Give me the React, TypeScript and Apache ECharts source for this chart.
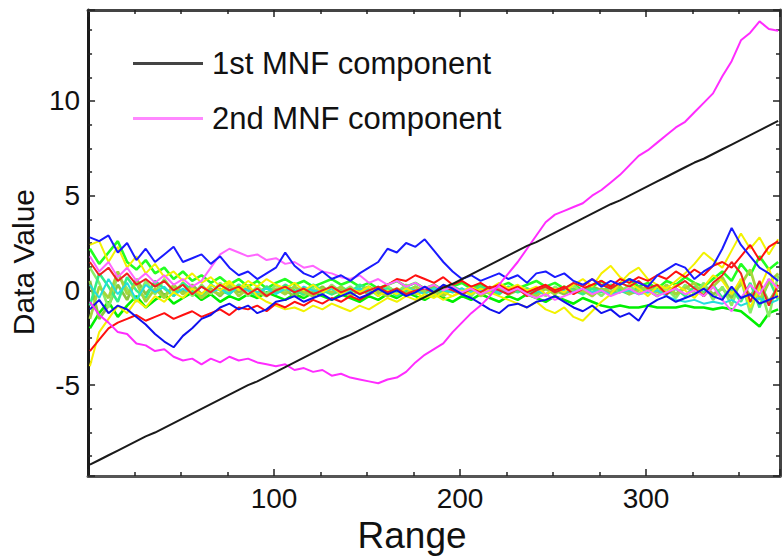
import React, { useEffect, useRef } from 'react';
import * as echarts from 'echarts';

// x positions (Range)
const XS = [
  1, 6, 11, 16, 21, 26, 31, 36, 41, 46, 51, 56, 61, 66, 71,
  76, 81, 86, 91, 96, 101, 106, 111, 116, 121, 126, 131, 136, 141, 146,
  151, 156, 161, 166, 171, 176, 181, 186, 191, 196, 201, 206, 211, 216, 221,
  226, 231, 236, 241, 246, 251, 256, 261, 266, 271, 276, 281, 286, 291, 296,
  301, 306, 311, 316, 321, 326, 331, 336, 341, 346, 351, 356, 361, 366, 371,
];

const MNF1 = [
  -9.2, -8.95, -8.7, -8.45, -8.2, -7.95, -7.7, -7.5, -7.25, -7.0, -6.75, -6.5, -6.25, -6.0, -5.75,
  -5.5, -5.25, -5.0, -4.8, -4.55, -4.3, -4.05, -3.8, -3.55, -3.3, -3.05, -2.8, -2.55, -2.35, -2.1,
  -1.85, -1.6, -1.35, -1.1, -0.85, -0.6, -0.35, -0.1, 0.15, 0.35, 0.6, 0.85, 1.1, 1.35, 1.6,
  1.85, 2.1, 2.35, 2.55, 2.8, 3.05, 3.3, 3.55, 3.8, 4.05, 4.3, 4.55, 4.75, 5.0, 5.25,
  5.5, 5.75, 6.0, 6.25, 6.5, 6.75, 6.95, 7.2, 7.45, 7.7, 7.95, 8.2, 8.45, 8.7, 8.95,
];

const MNF2 = [
  -0.6, -1.3, -1.7, -2.2, -2.3, -2.8, -2.9, -3.2, -3.1, -3.5, -3.7, -3.6, -3.9, -3.6, -3.8,
  -3.5, -3.7, -3.6, -3.8, -3.9, -4.0, -3.9, -4.2, -4.1, -4.3, -4.2, -4.5, -4.4, -4.6, -4.7,
  -4.8, -4.9, -4.7, -4.6, -4.3, -3.8, -3.4, -3.1, -2.8, -2.2, -1.7, -1.2, -0.8, -0.3, 0.3,
  0.9, 1.5, 2.2, 2.9, 3.6, 4.0, 4.2, 4.4, 4.6, 5.0, 5.3, 5.7, 6.1, 6.6, 7.1,
  7.4, 7.8, 8.2, 8.6, 8.9, 9.4, 9.9, 10.4, 11.3, 12.1, 13.2, 13.6, 14.2, 13.8, 13.7,
];

const BLUE_A = [
  2.8, 2.6, 2.9, 2.0, 2.5, 1.6, 2.2, 1.5, 1.9, 2.3, 1.5, 1.7, 1.9, 1.4, 1.8,
  1.2, 0.8, 1.0, 0.6, 0.9, 1.2, 2.0, 1.3, 0.9, 0.7, 1.0, 0.6, 0.8, 0.5, 0.9,
  1.2, 1.5, 2.2, 2.0, 2.5, 2.3, 2.7, 2.1, 1.5, 1.0, 0.6, 0.8, 0.5, 0.7, 0.9,
  0.6, 0.8, 0.4, 0.9, 1.0, 0.7, 0.9, 0.5, 0.3, 0.6, 0.2, 0.5, 0.3, 0.6, 0.4,
  0.2, 0.8, 1.1, 1.4, 1.2, 0.6, 1.0, 1.3, 2.2, 3.3, 2.4, 1.8, 1.2, 0.9, 0.5,
];

const BLUE_B = [
  -1.0, -0.5, -1.2, -0.8, -1.0, -1.4, -1.8, -2.3, -2.7, -3.0, -2.4, -2.0, -1.5, -1.3, -0.9,
  -0.7, -1.0, -0.8, -1.2, -1.0, -0.6, -0.5, -0.3, -0.6, -0.4, -0.2, -0.5, -0.3, -0.1, -0.4,
  -0.2, 0.1, -0.2, 0.0, -0.3, -0.1, 0.2, -0.1, 0.3, 0.1, -0.2, -0.4, -0.7, -1.0, -1.2,
  -0.8, -0.7, -0.9, -0.6, -0.5, -0.3, -0.6, -0.9, -1.1, -0.8, -1.2, -1.0, -1.4, -1.2, -1.6,
  -0.8, -0.5, -0.3, -0.6, -0.4, -0.2, 0.1, -0.3, -0.5, 0.2, -0.4, -0.2, -0.7, -0.5, -0.3,
];

const RED_A = [
  -3.2, -2.6, -2.0, -1.7, -1.5, -1.3, -1.6, -1.4, -1.2, -1.5, -1.3, -1.1, -1.4, -1.2, -1.0,
  -1.3, -0.9, -1.0, -0.8, -1.1, -0.7, -0.9, -0.6, -0.8, -0.5, -0.7, -0.4, -0.6, -0.3, -0.5,
  -0.2, 0.1, 0.3, 0.6, 0.5, 0.8, 0.6, 0.4, 0.7, 0.3, 0.5, 0.2, 0.4, 0.1, 0.3,
  0.0, 0.2, -0.1, 0.1, 0.3, 0.0, 0.2, -0.2, 0.1, 0.3, 0.5, 0.2, 0.6, 0.4, 0.7,
  0.5, 0.8, 0.6, 1.0, 0.7, 1.1, 0.8, 1.3, 1.5, 1.2, 1.8, 2.4, 1.6, 2.3, 2.6,
];

const RED_B = [
  1.5, 0.8, 1.2, 0.5, 0.9, 0.3, 0.6, 0.2, 0.5, 0.0, 0.3, -0.2, 0.2, -0.1, 0.3,
  0.0, 0.2, -0.2, 0.1, -0.3, 0.0, 0.2, -0.1, 0.1, -0.2, 0.0, 0.2, -0.1, 0.1, -0.2,
  0.0, 0.2, -0.1, 0.1, -0.2, 0.0, 0.1, -0.1, 0.2, 0.0, -0.2, 0.1, -0.1, 0.2, 0.0,
  -0.2, 0.1, -0.3, 0.0, 0.2, -0.1, 0.1, 0.4, 0.2, 0.6, 0.3, 0.1, 0.4, 0.2, 0.5,
  0.1, 0.3, -0.2, 0.2, 0.5, 0.1, -0.3, 0.4, 0.8, 1.5, 0.9, -0.6, 0.5, -0.8, 0.3,
];

const YELLOW_A = [
  2.4, 2.6, 1.5, 2.3, 1.2, 1.8, 0.9, 1.4, 0.7, 1.0, 0.5, 0.9, 0.4, 0.7, 0.2,
  0.5, 0.0, 0.3, -0.3, -0.6, -0.8, -1.0, -0.9, -1.1, -0.8, -1.0, -0.7, -0.9, -1.1, -0.8,
  -1.0, -0.7, -0.4, -0.6, -0.3, -0.5, -0.2, -0.4, -0.1, -0.3, 0.0, -0.2, 0.1, -0.1, -0.3,
  -0.5, -0.7, -0.9, -0.6, -1.0, -1.2, -0.9, -1.4, -1.6, -1.1, -0.6, -0.2, 0.4, 0.9, 1.2,
  0.6, 0.3, 0.1, 0.5, 0.9, 1.4, 2.0, 1.6, 1.2, 2.1, 3.0, 2.2, 2.8, 1.9, 2.7,
];

const YELLOW_B = [
  -4.0, -2.2, -1.5, -0.8, -1.2, -0.5, -0.9, -0.3, -0.6, -0.1, -0.4, 0.1, -0.2, 0.3, 0.0,
  0.4, 0.1, 0.5, 0.2, 0.6, 0.3, 0.1, 0.4, 0.0, 0.3, -0.1, 0.2, -0.2, 0.1, -0.1,
  0.2, -0.3, 0.0, -0.2, 0.1, -0.1, -0.4, -0.2, -0.5, -0.3, -0.1, 0.2, -0.1, 0.1, 0.4,
  0.1, 0.3, 0.0, 0.2, -0.2, 0.1, -0.1, 0.3, 0.6, 0.2, 0.9, 1.3, 0.7, 0.4, 0.1,
  -0.3, 0.2, -0.1, 0.3, 0.0, -0.4, 0.2, 0.8, 0.5, -0.2, 0.6, -0.9, 0.1, 1.2, -0.4,
];

const GREEN_1 = [
  2.2, 1.4, 2.0, 2.6, 1.5, 1.1, 1.6, 0.9, 1.2, 0.6, 1.0, 0.5, 0.8, 0.4, 0.7,
  0.3, 0.6, 0.2, 0.5, 0.1, 0.4, 0.6, 0.3, 0.5, 0.2, 0.4, 0.6, 0.3, 0.5, 0.2,
  0.4, 0.1, 0.3, 0.5, 0.2, 0.4, 0.1, 0.3, 0.0, 0.2, 0.4, 0.1, 0.3, 0.0, 0.2,
  0.4, 0.1, 0.3, 0.5, 0.2, 0.4, 0.1, 0.3, 0.0, 0.2, 0.5, 0.1, 0.3, 0.6, 0.2,
  0.4, 0.1, 0.5, 0.3, 0.7, 0.4, 0.2, 0.6, 1.0, 0.5, 1.4, 0.8, 1.8, 1.1, 1.5,
];

const GREEN_2 = [
  -2.0, -1.2, -0.6, -1.4, -0.8, -0.3, -0.9, -0.5, -0.2, -0.7, -0.4, -0.1, -0.5, -0.2, -0.6,
  -0.3, -0.5, -0.2, -0.4, -0.1, -0.3, -0.5, -0.2, -0.4, -0.1, -0.3, -0.5, -0.2, -0.4, -0.6,
  -0.3, -0.5, -0.2, -0.4, -0.1, -0.3, -0.5, -0.2, -0.4, -0.6, -0.3, -0.5, -0.2, -0.4, -0.6,
  -0.3, -0.5, -0.2, -0.4, -0.6, -0.3, -0.5, -0.7, -0.4, -0.6, -0.8, -0.9, -0.8, -0.9, -0.9,
  -0.8, -0.9, -0.9, -0.9, -0.8, -0.9, -0.9, -1.0, -0.9, -1.0, -1.1, -1.5, -1.9, -1.2, -1.0,
];

const GREEN_3 = [
  0.5, -1.5, -0.8, 0.3, -0.5, 0.6, -0.2, 0.4, -0.3, 0.2, -0.1, 0.3, -0.2, 0.1, -0.3,
  0.2, -0.1, 0.1, -0.2, 0.2, -0.1, 0.0, -0.3, 0.1, -0.1, 0.2, -0.2, 0.0, -0.1, 0.1,
  -0.2, 0.0, 0.2, -0.1, 0.1, -0.2, 0.0, 0.2, -0.1, 0.1, -0.2, 0.0, 0.2, -0.1, 0.1,
  -0.2, 0.0, 0.1, -0.1, 0.2, 0.0, -0.2, 0.1, -0.1, 0.2, 0.0, -0.2, 0.1, -0.1, 0.2,
  0.0, -0.3, 0.1, -0.2, 0.2, -0.1, 0.3, -0.2, 0.1, -0.4, 0.5, -0.3, 0.4, -0.6, 0.2,
];

const GREEN_4 = [
  1.2, 0.4, -0.9, 0.8, 0.1, -0.6, 0.5, -0.2, 0.6, -0.1, 0.4, -0.3, 0.3, -0.2, 0.4,
  -0.1, 0.3, -0.3, 0.2, -0.2, 0.3, -0.1, 0.2, -0.3, 0.1, -0.2, 0.3, -0.1, 0.2, -0.2,
  0.1, -0.3, 0.2, -0.1, 0.3, -0.2, 0.1, -0.3, 0.2, -0.1, 0.1, -0.3, 0.2, -0.2, 0.3,
  -0.1, 0.2, -0.2, 0.1, -0.3, 0.2, -0.1, 0.3, -0.2, 0.1, -0.3, 0.2, -0.1, 0.3, -0.2,
  0.2, -0.3, 0.1, -0.4, 0.3, -0.2, 0.4, -0.5, 0.2, -0.8, 0.6, -1.2, 0.3, -1.4, 0.8,
];

const GREEN_5 = [
  -0.8, 0.9, 0.2, -0.6, 0.7, 0.0, -0.4, 0.5, 0.1, -0.3, 0.4, 0.0, -0.3, 0.3, 0.0,
  -0.2, 0.3, 0.0, -0.3, 0.2, -0.1, 0.3, 0.0, -0.2, 0.3, 0.0, -0.2, 0.2, -0.1, 0.3,
  0.0, -0.2, 0.1, -0.3, 0.0, 0.2, -0.1, 0.1, -0.2, 0.2, 0.0, -0.1, 0.2, 0.0, -0.2,
  0.2, -0.1, 0.1, -0.2, 0.1, -0.1, 0.2, 0.0, -0.2, 0.1, -0.1, 0.3, 0.0, -0.2, 0.1,
  -0.1, 0.2, -0.2, 0.1, -0.3, 0.2, -0.1, 0.3, -0.4, 0.1, -0.6, 0.4, -0.9, 0.6, -0.5,
];

const GREEN_6 = [
  -1.5, 0.2, -0.4, 1.0, -0.2, 0.4, -0.6, 0.1, -0.4, 0.3, -0.2, 0.2, -0.4, 0.0, -0.2,
  0.3, -0.3, 0.1, -0.1, -0.3, 0.1, -0.2, 0.2, -0.1, -0.3, 0.1, -0.1, 0.2, -0.3, 0.0,
  0.2, -0.1, -0.3, 0.1, -0.2, 0.2, -0.1, 0.0, -0.3, 0.1, -0.1, 0.2, -0.3, 0.0, 0.1,
  -0.2, 0.2, -0.1, -0.3, 0.1, -0.2, 0.2, -0.1, 0.0, -0.3, 0.1, -0.1, 0.2, -0.2, 0.0,
  0.2, -0.1, 0.3, -0.2, 0.1, 0.4, -0.3, 0.2, 0.7, -0.2, 0.3, 1.1, -0.5, 0.4, 0.9,
];

const CYAN = [
  0.3, -0.4, 0.6, -0.2, 0.4, -0.5, 0.3, -0.1, 0.2, -0.3, 0.1, -0.2, 0.2, -0.1, 0.1,
  -0.2, 0.2, 0.0, -0.1, 0.1, -0.2, 0.1, -0.1, 0.2, 0.0, -0.1, 0.1, -0.2, 0.0, 0.1,
  -0.1, 0.2, 0.0, -0.1, 0.1, 0.0, -0.2, 0.1, 0.0, -0.1, 0.1, -0.1, 0.0, 0.1, -0.1,
  0.0, 0.1, -0.1, 0.0, -0.2, 0.1, 0.0, -0.1, 0.1, -0.1, 0.0, -0.2, -0.1, 0.0, -0.2,
  -0.1, 0.0, -0.3, -0.5, -0.6, -0.5, -0.7, -0.6, -0.7, -0.5, -0.8, -0.6, -0.4, -0.7, -0.5,
];

const PINK = [
  1.8, 1.0, 1.5, 0.7, 1.2, 0.5, 0.9, 0.4, 0.8, 0.3, 0.6, 0.2, 0.5, 1.2, 1.9,
  2.2, 2.0, 1.8, 1.9, 1.6, 1.7, 1.4, 1.5, 1.2, 1.3, 1.0, 0.9, 0.7, 0.6, 0.8,
  0.4, 0.6, 0.3, 0.5, 0.2, 0.4, 0.1, 0.3, 0.0, 0.2, -0.1, 0.1, -0.2, 0.0, 0.2,
  -0.1, 0.1, -0.2, -0.4, -0.2, -0.5, -0.3, -0.1, 0.1, -0.2, 0.0, -0.3, -0.1, 0.1, -0.2,
  0.0, -0.3, -0.1, 0.1, -0.2, 0.0, -0.3, 0.2, -0.5, -1.1, -0.4, 0.3, -0.2, 0.6, 0.1,
];

const LEGEND_NAMES = ['1st MNF component', '2nd MNF component'];
const X_TITLE = 'Range';
const Y_TITLE = 'Data Value';

const NOISE = [
  { name: 'noise-g1', data: GREEN_1, color: '#22ff22', width: 2.6 },
  { name: 'noise-g2', data: GREEN_2, color: '#00f000', width: 2.6 },
  { name: 'noise-g3', data: GREEN_3, color: '#8cc63f', width: 2.8 },
  { name: 'noise-g4', data: GREEN_4, color: '#88ee66', width: 2.6 },
  { name: 'noise-g5', data: GREEN_5, color: '#33ee88', width: 2.6 },
  { name: 'noise-g6', data: GREEN_6, color: '#a6d63a', width: 2.8 },
  { name: 'noise-cyan', data: CYAN, color: '#22dddd', width: 2 },
  { name: 'noise-yellow-a', data: YELLOW_A, color: '#f2f200', width: 2 },
  { name: 'noise-yellow-b', data: YELLOW_B, color: '#f7f000', width: 2 },
  { name: 'noise-red-a', data: RED_A, color: '#ff1010', width: 2 },
  { name: 'noise-red-b', data: RED_B, color: '#f02020', width: 2 },
  { name: 'noise-pink', data: PINK, color: '#ff66ff', width: 2 },
  { name: 'noise-blue-a', data: BLUE_A, color: '#1a1aff', width: 2 },
  { name: 'noise-blue-b', data: BLUE_B, color: '#1010ee', width: 2 },
];

const FONT = '"Liberation Sans", Arial, Helvetica, sans-serif';
const W = 782;
const H = 559;

const pairs = (ys: number[]) => XS.map((x, i) => [x, ys[i]]);

export default function App() {
  const ref = useRef<HTMLDivElement>(null);
  useEffect(() => {
    if (!ref.current) return;
    const chart = echarts.init(ref.current, undefined, { renderer: 'svg', width: W, height: H });
    const tickStyle = { color: '#222', width: 1.5 };
    const xCommon = {
      type: 'value',
      min: 0,
      max: 372,
      interval: 100,
      splitLine: { show: false },
      minorSplitLine: { show: false },
      axisTick: { show: true, inside: true, length: 7, lineStyle: tickStyle },
      minorTick: { show: true, splitNumber: 4, length: 4, lineStyle: tickStyle },
    };
    const yCommon = {
      type: 'value',
      min: -9.8,
      max: 14.8,
      splitNumber: 5,
      splitLine: { show: false },
      minorSplitLine: { show: false },
      axisTick: { show: true, inside: true, length: 7, lineStyle: tickStyle },
      minorTick: { show: true, splitNumber: 4, length: 4, lineStyle: tickStyle },
    };
    const series: any[] = NOISE.map((n) => ({
      type: 'line',
      name: n.name,
      data: pairs(n.data),
      symbol: 'none',
      showSymbol: false,
      silent: true,
      lineStyle: { color: n.color, width: n.width },
      itemStyle: { color: n.color },
    }));
    series.push({
      type: 'line',
      name: LEGEND_NAMES[1],
      data: pairs(MNF2),
      symbol: 'none',
      showSymbol: false,
      lineStyle: { color: '#ff2cff', width: 2 },
      itemStyle: { color: '#ff88ff' },
      z: 5,
    });
    series.push({
      type: 'line',
      name: LEGEND_NAMES[0],
      data: pairs(MNF1),
      symbol: 'none',
      showSymbol: false,
      lineStyle: { color: '#1a1a1a', width: 2 },
      itemStyle: { color: '#444' },
      z: 6,
    });

    chart.setOption({
      animation: false,
      backgroundColor: '#ffffff',
      textStyle: { fontFamily: FONT },
      grid: { left: 88, right: 2, top: 10, bottom: 69, containLabel: false },
      legend: {
        orient: 'vertical',
        left: 133,
        top: 48,
        padding: 0,
        itemGap: 24,
        itemWidth: 70,
        itemHeight: 3,
        icon: 'rect',
        selectedMode: false,
        data: LEGEND_NAMES,
        textStyle: { fontSize: 31, color: '#111', fontFamily: FONT, padding: [0, 0, 0, 4] },
      },
      xAxis: [
        {
          ...xCommon,
          position: 'bottom',
          name: X_TITLE,
          nameLocation: 'middle',
          nameGap: 25,
          nameTextStyle: { fontSize: 37, color: '#111', fontFamily: FONT, padding: [0, 44, 0, 0] },
          axisLine: { show: true, onZero: false, lineStyle: { color: '#555', width: 3 } },
          axisLabel: { fontSize: 28, color: '#111', margin: 8, showMinLabel: false, showMaxLabel: false, fontFamily: FONT },
        },
        {
          ...xCommon,
          position: 'top',
          axisLine: { show: true, onZero: false, lineStyle: { color: '#444', width: 3 } },
          axisLabel: { show: false },
        },
      ],
      yAxis: [
        {
          ...yCommon,
          position: 'left',
          name: Y_TITLE,
          nameLocation: 'middle',
          nameGap: 46,
          nameTextStyle: { fontSize: 30, color: '#111', fontFamily: FONT, padding: [0, 38, 0, 0] },
          axisLine: { show: true, onZero: false, lineStyle: { color: '#1a1a1a', width: 3 } },
          axisLabel: { fontSize: 28, color: '#111', margin: 8, showMinLabel: false, showMaxLabel: false, fontFamily: FONT },
        },
        {
          ...yCommon,
          position: 'right',
          axisLine: { show: true, onZero: false, lineStyle: { color: '#444', width: 3 } },
          axisLabel: { show: false },
        },
      ],
      series,
    });
    return () => chart.dispose();
  }, []);
  return (
    <div
      ref={ref}
      style={{ position: 'fixed', left: 0, top: 0, width: W, height: H, background: '#fff' }}
    />
  );
}
